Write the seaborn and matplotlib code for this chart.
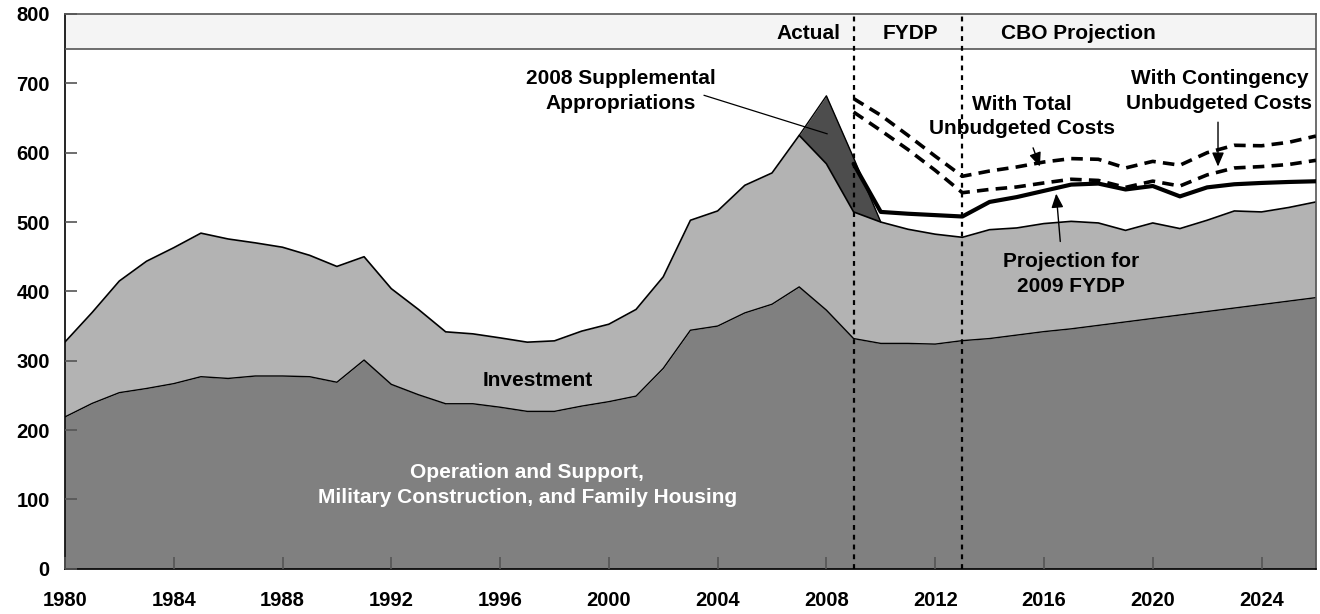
import matplotlib
matplotlib.use("Agg")
import matplotlib.pyplot as plt
import seaborn as sns

sns.set_theme(style="white")
plt.rcParams["font.family"] = ["Liberation Sans", "DejaVu Sans"]
plt.rcParams["font.weight"] = "bold"
plt.rcParams["text.color"] = "black"

# data, billions of dollars
years = list(range(1980, 2027))
ops = [219, 238.5, 254, 260, 267, 277, 274.5, 278, 278, 277,
       269, 301, 266, 251, 238, 238, 233, 227, 227, 234.6,
       241, 249, 289, 344, 350, 369, 381.5, 406.5, 373, 332,
       325, 325, 324, 329, 332, 337, 342, 346, 351, 356,
       361, 366, 371, 376, 381, 386, 391]
total = [327, 369.6, 415, 443.5, 463, 484, 475.6, 470, 463.7, 452,
         436, 450, 404, 374, 341.7, 338.8, 333, 326.8, 328.7, 342.7,
         352.7, 374, 421, 502.6, 516, 553, 570.8, 625, 584, 514.6,
         500, 489.6, 482.5, 478, 489, 491.5, 497.8, 501, 498.7, 488,
         498.7, 490.6, 502.6, 516, 514.6, 521, 529]

supp_years = [2007, 2008, 2009, 2010]
supp = [0, 98, 78, 0]

proj_years = list(range(2009, 2027))
fydp = [584, 514.6, 512, 510, 508, 529, 536, 545, 554, 555.5,
        547, 552, 537, 550, 554.5, 556.4, 557.8, 558.8]
contingency = [658.6, 632, 604.5, 574.6, 542.3, 547, 550.6, 556.4, 561.7, 560,
               550, 559, 552, 568, 578, 580, 583, 589]
total_unbudgeted = [678, 654, 625, 595, 566, 573.6, 579.4, 586.6, 591.5, 590.5,
                    578, 587.5, 582, 600, 610.7, 610, 615, 624]

fig = plt.figure(figsize=(13.2, 6.14), dpi=100)
ax = fig.add_axes([0.0492, 0.0736, 0.9477, 0.9036])
ax.set_axisbelow(False)

# stacked areas
ax.fill_between(years, 0, ops, color="#808080", lw=0, zorder=1)
ax.fill_between(years, ops, total, color="#b3b3b3", lw=0, zorder=1)
base = [total[years.index(y)] for y in supp_years]
supp_top = [b + s for b, s in zip(base, supp)]
ax.fill_between(supp_years, base, supp_top, color="#4d4d4d", lw=0, zorder=1)
sns.lineplot(x=years, y=ops, ax=ax, color="black", lw=1, errorbar=None, zorder=2)
sns.lineplot(x=years, y=total, ax=ax, color="black", lw=1.2, errorbar=None, zorder=2)
sns.lineplot(x=supp_years, y=supp_top, ax=ax, color="black", lw=1, errorbar=None, zorder=2)

# projections
sns.lineplot(x=proj_years, y=fydp, ax=ax, color="black", lw=3, errorbar=None, zorder=4)
sns.lineplot(x=proj_years, y=contingency, ax=ax, color="black", lw=2.6,
             linestyle=(0, (3.2, 2)), errorbar=None, zorder=4)
sns.lineplot(x=proj_years, y=total_unbudgeted, ax=ax, color="black", lw=2.6,
             linestyle=(0, (3.2, 2)), errorbar=None, zorder=4)

# header band and period dividers
ax.axhspan(750, 800, facecolor="#f4f4f4", edgecolor="none", zorder=0)
ax.axhline(750, color="#555555", lw=1.2, zorder=3)
ax.vlines([2009, 2013], 0, 800, colors="black", linestyles=(0, (2.2, 2.2)), lw=1.6, zorder=5)

ax.text(2008.5, 772, "Actual", ha="right", va="center", fontsize=15, fontweight="bold")
ax.text(2011.1, 772, "FYDP", ha="center", va="center", fontsize=15, fontweight="bold")
ax.text(2017.27, 772, "CBO Projection", ha="center", va="center", fontsize=15, fontweight="bold")

# labels
ax.text(1997.4, 272, "Investment", ha="center", va="center", fontsize=15, fontweight="bold")
ax.text(1997.0, 121, "Operation and Support,\nMilitary Construction, and Family Housing",
        ha="center", va="center", fontsize=15, fontweight="bold", color="white", linespacing=1.4)
ax.text(2000.45, 689, "2008 Supplemental\nAppropriations", ha="center", va="center",
        fontsize=15, fontweight="bold", linespacing=1.35)
ax.text(2015.2, 652, "With Total\nUnbudgeted Costs", ha="center", va="center",
        fontsize=15, fontweight="bold", linespacing=1.35)
ax.text(2022.45, 689, "With Contingency\nUnbudgeted Costs", ha="center", va="center",
        fontsize=15, fontweight="bold", linespacing=1.35)
ax.text(2017.0, 425, "Projection for\n2009 FYDP", ha="center", va="center",
        fontsize=15, fontweight="bold", linespacing=1.35)

ax.annotate("", xy=(2008.13, 626), xytext=(2003.4, 684),
            arrowprops=dict(arrowstyle="-", color="black", lw=0.9), zorder=6)
arrow = dict(arrowstyle="-|>,head_length=0.7,head_width=0.3", color="black", lw=1,
             shrinkA=0, shrinkB=0)
ax.annotate("", xy=(2015.85, 580), xytext=(2015.6, 607), arrowprops=arrow, zorder=6)
ax.annotate("", xy=(2022.4, 580), xytext=(2022.4, 644), arrowprops=arrow, zorder=6)
ax.annotate("", xy=(2016.45, 541), xytext=(2016.6, 472), arrowprops=arrow, zorder=6)

# axes
ax.set_xlim(1980, 2026)
ax.set_ylim(0, 800)
ax.set_xticks(range(1980, 2026, 4))
ax.set_yticks(range(0, 801, 100))
ax.tick_params(axis="both", direction="in", length=8.5, width=1.2, color="#555555",
               labelsize=14.5, labelcolor="black", bottom=True, left=True)
ax.tick_params(axis="y", pad=11)
ax.tick_params(axis="x", pad=16)
for lab in ax.get_xticklabels() + ax.get_yticklabels():
    lab.set_fontweight("bold")
for side in ["left", "bottom"]:
    ax.spines[side].set_color("black")
    ax.spines[side].set_linewidth(1.2)
for side in ["top", "right"]:
    ax.spines[side].set_color("#555555")
    ax.spines[side].set_linewidth(1.2)
ax.set_xlabel("")
ax.set_ylabel("")

fig.savefig("out.png", dpi=100)
